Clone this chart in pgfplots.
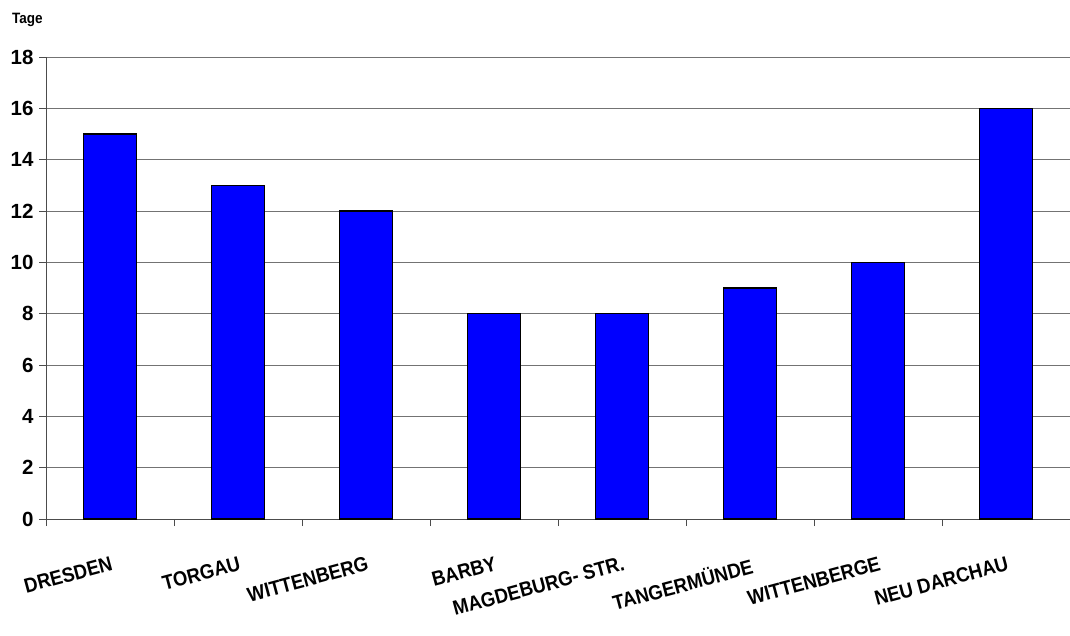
\documentclass[border=0pt]{standalone}
\usepackage{fontspec}
\setmainfont{Liberation Sans}
\usepackage{graphicx}
\usepackage{pgfplots}
\pgfplotsset{compat=1.18}
\newcommand\sx[1]{\scalebox{0.9}[1]{#1}}
\begin{document}
\begin{tikzpicture}
\begin{axis}[
  scale only axis, width=1024pt, height=462pt,
  xmin=-0.5, xmax=7.5, ymin=0, ymax=18,
  axis x line*=bottom, axis y line*=left,
  axis line style={black!70, line width=0.9pt},
  ytick={0,2,...,18},
  ymajorgrids, grid style={black!55, line width=0.8pt},
  tick align=outside, major tick length=7pt,
  tick style={black!70, line width=0.8pt},
  xtick={-0.5,0.5,...,7.5}, xticklabels={},
  extra x ticks={0,1,2,3,4,5,6,7},
  extra x tick labels={\sx{DRESDEN},\sx{TORGAU},\sx{WITTENBERG},\sx{BARBY},\sx{MAGDEBURG- STR.},\sx{TANGERMÜNDE},\sx{WITTENBERGE},\sx{NEU DARCHAU}},
  extra x tick style={major tick length=0pt},
  xticklabel style={font=\bfseries\fontsize{20.5}{20.5}\selectfont, rotate=15, anchor=north east, inner sep=0pt, xshift=-9.6pt, yshift=-35.7pt},
  yticklabel style={font=\bfseries\fontsize{20.5}{20.5}\selectfont, xshift=-2pt},
  /pgf/number format/assume math mode=true,
]
\addplot[ybar, bar width=0.41, fill=blue, draw=black, line width=1.1pt]
  coordinates {(0,15) (1,13) (2,12) (3,8) (4,8) (5,9) (6,10) (7,16)};
\end{axis}
\node[anchor=base west, font=\bfseries\fontsize{15}{15}\selectfont, inner sep=0pt] at ([xshift=-34pt,yshift=33pt]current axis.north west) {\scalebox{0.9}[1]{Tage}};
\pgfresetboundingbox
\path ([xshift=-46pt,yshift=-116pt]current axis.south west) rectangle ([yshift=57pt]current axis.north east);
\end{tikzpicture}
\end{document}
